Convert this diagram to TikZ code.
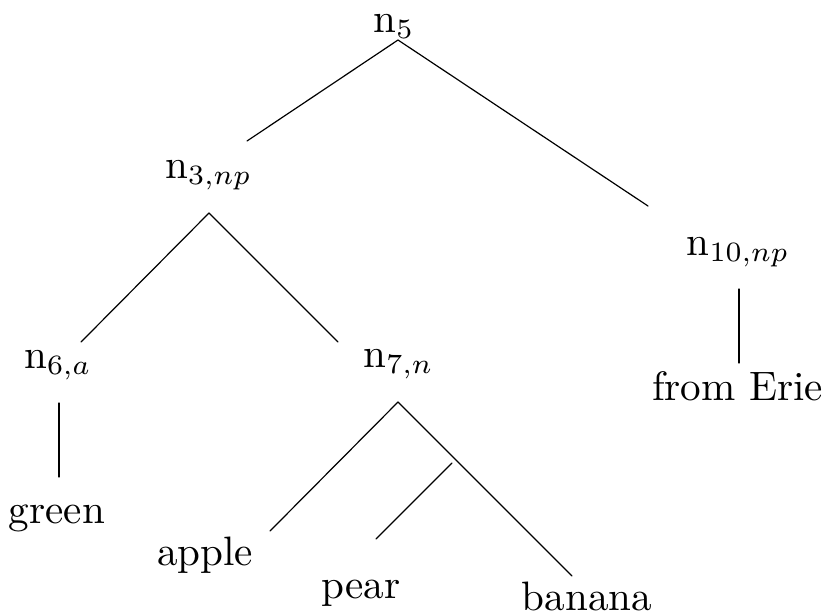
\documentclass[tikz,border=0pt]{standalone}
\begin{document}
\begin{tikzpicture}[x=0.25pt,y=-0.25pt,
  lbl/.style={anchor=base,inner sep=0pt,font=\fontsize{10.28}{12.3}\selectfont},
  edge/.style={line width=0.3pt,line cap=round}]
\useasboundingbox (0,0) rectangle (830,612);
% nodes
\node[lbl] (n5)  at (394,32)  {n$_{5}$};
\node[lbl] (n3)  at (208.5,178) {n$_{3,np}$};
\node[lbl] (n10) at (738,255) {n$_{10,np}$};
\node[lbl] (n6)  at (58,368)  {n$_{6,a}$};
\node[lbl] (n7)  at (398.5,367) {n$_{7,n}$};
\node[lbl] (green)  at (57,523)  {green};
\node[lbl] (erie)   at (737.5,400) {from Erie};
\node[lbl] (apple)  at (205,565) {apple};
\node[lbl] (pear)   at (361,598) {pear};
\node[lbl] (banana) at (587,610) {banana};
% connector ends
\coordinate (n5b)  at (398,40);
\coordinate (n3t)  at (247,141);
\coordinate (n10t) at (648,206);
\coordinate (n3b)  at (209,213);
\coordinate (n6t)  at (81,342);
\coordinate (n7t)  at (338,342);
\coordinate (n6b)  at (59,403);
\coordinate (greent) at (59,477);
\coordinate (n7b)  at (398,402);
\coordinate (applet) at (270,531);
\coordinate (bananat) at (572,576);
\coordinate (peart) at (376,539);
\coordinate (pearend) at (452,463);
\coordinate (n10b) at (739,289);
\coordinate (eriet) at (739,363);
% connectors
\draw[edge] (n5b) -- (n3t);
\draw[edge] (n5b) -- (n10t);
\draw[edge] (n3b) -- (n6t);
\draw[edge] (n3b) -- (n7t);
\draw[edge] (n6b) -- (greent);
\draw[edge] (n7b) -- (applet);
\draw[edge] (n7b) -- (bananat);
\draw[edge] (peart) -- (pearend);
\draw[edge] (n10b) -- (eriet);
\end{tikzpicture}
\end{document}
